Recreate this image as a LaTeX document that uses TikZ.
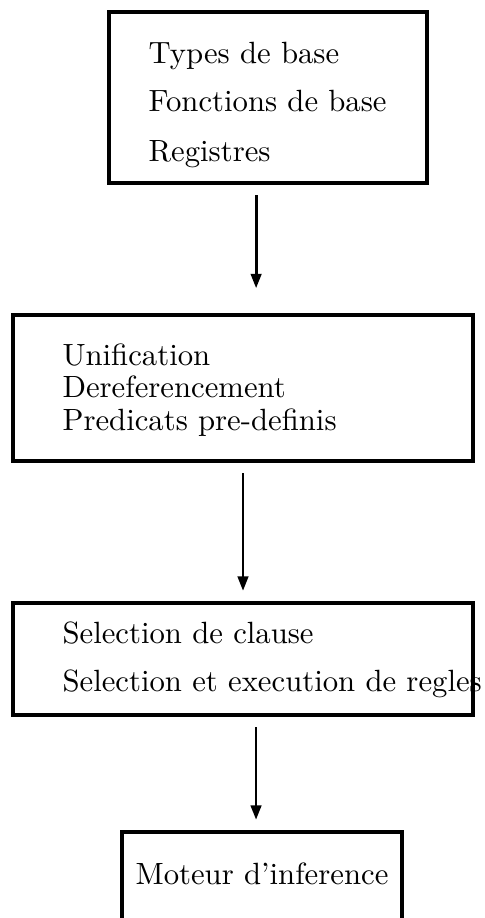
\documentclass[tikz,border=0pt]{standalone}
\usetikzlibrary{arrows.meta}

\begin{document}
\begin{tikzpicture}[x=0.345pt,y=-0.345pt,
    font=\fontsize{10.6pt}{12.7pt}\selectfont,
    bloc/.style={draw, line width=1.4pt, rectangle, inner sep=0pt},
    ligne/.style={anchor=base west, inner sep=0pt},
    fleche/.style={-{Triangle[length=5pt,width=3.6pt]}, line width=1pt}]
            \useasboundingbox (0,0) rectangle (485,918);

            % Blocs
            \node[bloc, minimum width=109.7pt, minimum height=59pt] (base) at (268,97.5) {};
            \node[bloc, minimum width=158.7pt, minimum height=50.4pt] (unif) at (243,388) {};
            \node[bloc, minimum width=158.7pt, minimum height=38.6pt] (select) at (243,659) {};
            \node[bloc, minimum width=96.6pt, minimum height=34.5pt] (moteur) at (262,882) {};

            % Textes
            \node[ligne] (t1) at (148,63) {Types de base};
            \node[ligne] (t2) at (148,111) {Fonctions de base};
            \node[ligne] (t3) at (148,161) {Registres};

            \node[ligne] (u1) at (62,365) {Unification};
            \node[ligne] (u2) at (62,397) {Dereferencement};
            \node[ligne] (u3) at (62,430) {Predicats pre-definis};

            \node[ligne] (s1) at (62,643) {Selection de clause};
            \node[ligne] (s2) at (62,691) {Selection et execution de regles};

            \node[ligne] (m1) at (135,884) {Moteur d'inference};

            % Liens
            \draw[fleche] ([xshift=-4.1pt,yshift=-3.5pt]base.south) -- ([xshift=-4.1pt,yshift=8.5pt]base.south |- unif.north);
            \draw[fleche] ([yshift=-3.5pt]unif.south) -- ([yshift=3.5pt]unif.south |- select.north);
            \draw[fleche] ([xshift=4.5pt,yshift=-3.5pt]select.south) -- ([xshift=4.5pt,yshift=3.5pt]select.south |- moteur.north);

        \end{tikzpicture}
\end{document}
